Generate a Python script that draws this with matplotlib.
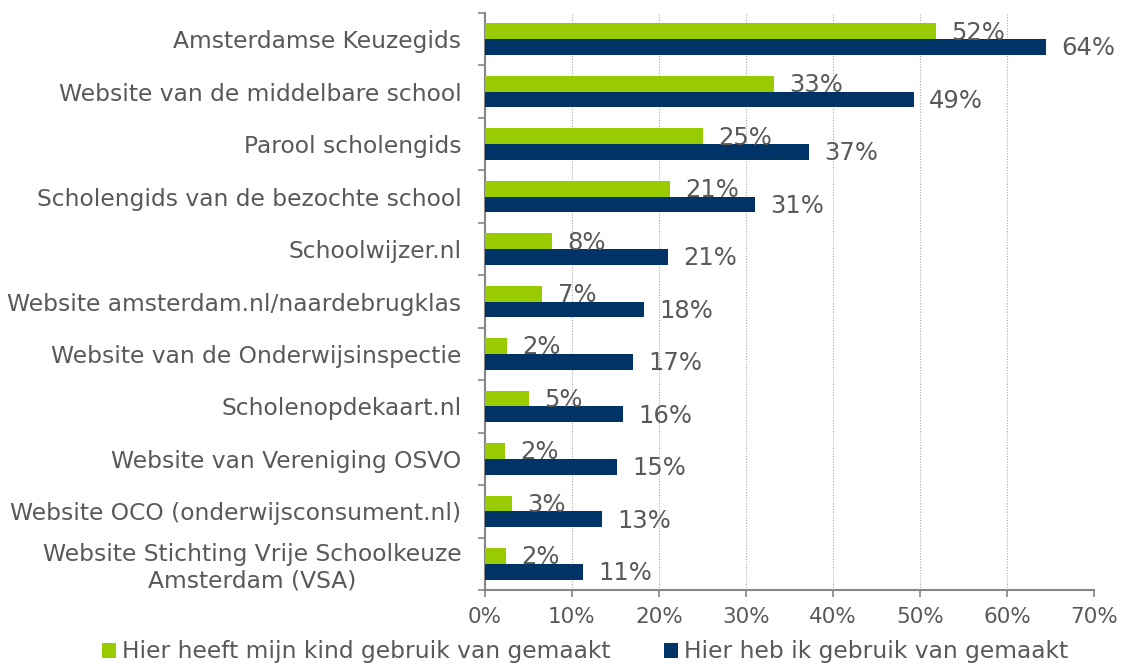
import matplotlib
matplotlib.use("Agg")
import matplotlib.pyplot as plt
import numpy as np

categories = [
    "Amsterdamse Keuzegids",
    "Website van de middelbare school",
    "Parool scholengids",
    "Scholengids van de bezochte school",
    "Schoolwijzer.nl",
    "Website amsterdam.nl/naardebrugklas",
    "Website van de Onderwijsinspectie",
    "Scholenopdekaart.nl",
    "Website van Vereniging OSVO",
    "Website OCO (onderwijsconsument.nl)",
    "Website Stichting Vrije Schoolkeuze\nAmsterdam (VSA)",
]
kind_values = [51.8, 33.2, 25.0, 21.3, 7.7, 6.6, 2.5, 5.0, 2.3, 3.1, 2.4]
ouder_values = [64.5, 49.3, 37.2, 31.0, 21.0, 18.3, 17.0, 15.9, 15.2, 13.4, 11.3]
kind_labels = ["52%", "33%", "25%", "21%", "8%", "7%", "2%", "5%", "2%", "3%", "2%"]
ouder_labels = ["64%", "49%", "37%", "31%", "21%", "18%", "17%", "16%", "15%", "13%", "11%"]
series_names = ["Hier heeft mijn kind gebruik van gemaakt", "Hier heb ik gebruik van gemaakt"]
xticks = [0, 10, 20, 30, 40, 50, 60, 70]

GREEN = "#99CC00"
BLUE = "#003366"
TXT = "#595959"
AX = "#868686"

plt.rcParams['font.family'] = ['DejaVu Sans']
W, H = 1127, 667
fig = plt.figure(figsize=(W / 100, H / 100), dpi=100)
ax = fig.add_axes([485 / W, (H - 590) / H, 609 / W, 577 / H])

y = np.arange(len(categories))
bh = 0.3
ax.barh(y - bh / 2, kind_values, height=bh, color=GREEN, label=series_names[0], zorder=3)
ax.barh(y + bh / 2, ouder_values, height=bh, color=BLUE, label=series_names[1], zorder=3)

for yi, v, t in zip(y, kind_values, kind_labels):
    ax.annotate(t, (v, yi - bh / 2), xytext=(11, -1), textcoords="offset points",
                va="center", ha="left", fontsize=17.5, color=TXT, zorder=4)
for yi, v, t in zip(y, ouder_values, ouder_labels):
    ax.annotate(t, (v, yi + bh / 2), xytext=(11, -1), textcoords="offset points",
                va="center", ha="left", fontsize=17.5, color=TXT, zorder=4)

ax.set_xlim(0, 70)
ax.set_ylim(len(categories) - 0.5, -0.5)
ax.set_xticks(xticks)
ax.set_xticklabels([f"{v}%" for v in xticks], fontsize=15.5, color=TXT)
ax.set_yticks(y)
ax.set_yticklabels(categories, fontsize=16.8, color=TXT)
for lbl in ax.get_yticklabels():
    lbl.set_multialignment("center")
ax.set_yticks(np.arange(len(categories) + 1) - 0.5, minor=True)
ax.tick_params(axis="y", which="major", length=0, pad=17)
ax.tick_params(axis="y", which="minor", length=5, color=AX, width=1.2, direction="out")
ax.tick_params(axis="x", which="major", length=5, color=AX, width=1.2, direction="out", pad=7)

ax.grid(axis="x", linestyle=(0, (1, 1.5)), color="#a6a6a6", linewidth=0.8, zorder=0)
for s in ["top", "right"]:
    ax.spines[s].set_visible(False)
for s in ["left", "bottom"]:
    ax.spines[s].set_color(AX)
    ax.spines[s].set_linewidth(1.5)

leg = fig.legend(loc="lower center", bbox_to_anchor=(585 / W, -0.026), ncol=2, frameon=False,
                 fontsize=16.8, handlelength=0.62, handleheight=0.62, handletextpad=0.25,
                 columnspacing=2.3, labelcolor=TXT)

fig.savefig("out.png", dpi=100)
